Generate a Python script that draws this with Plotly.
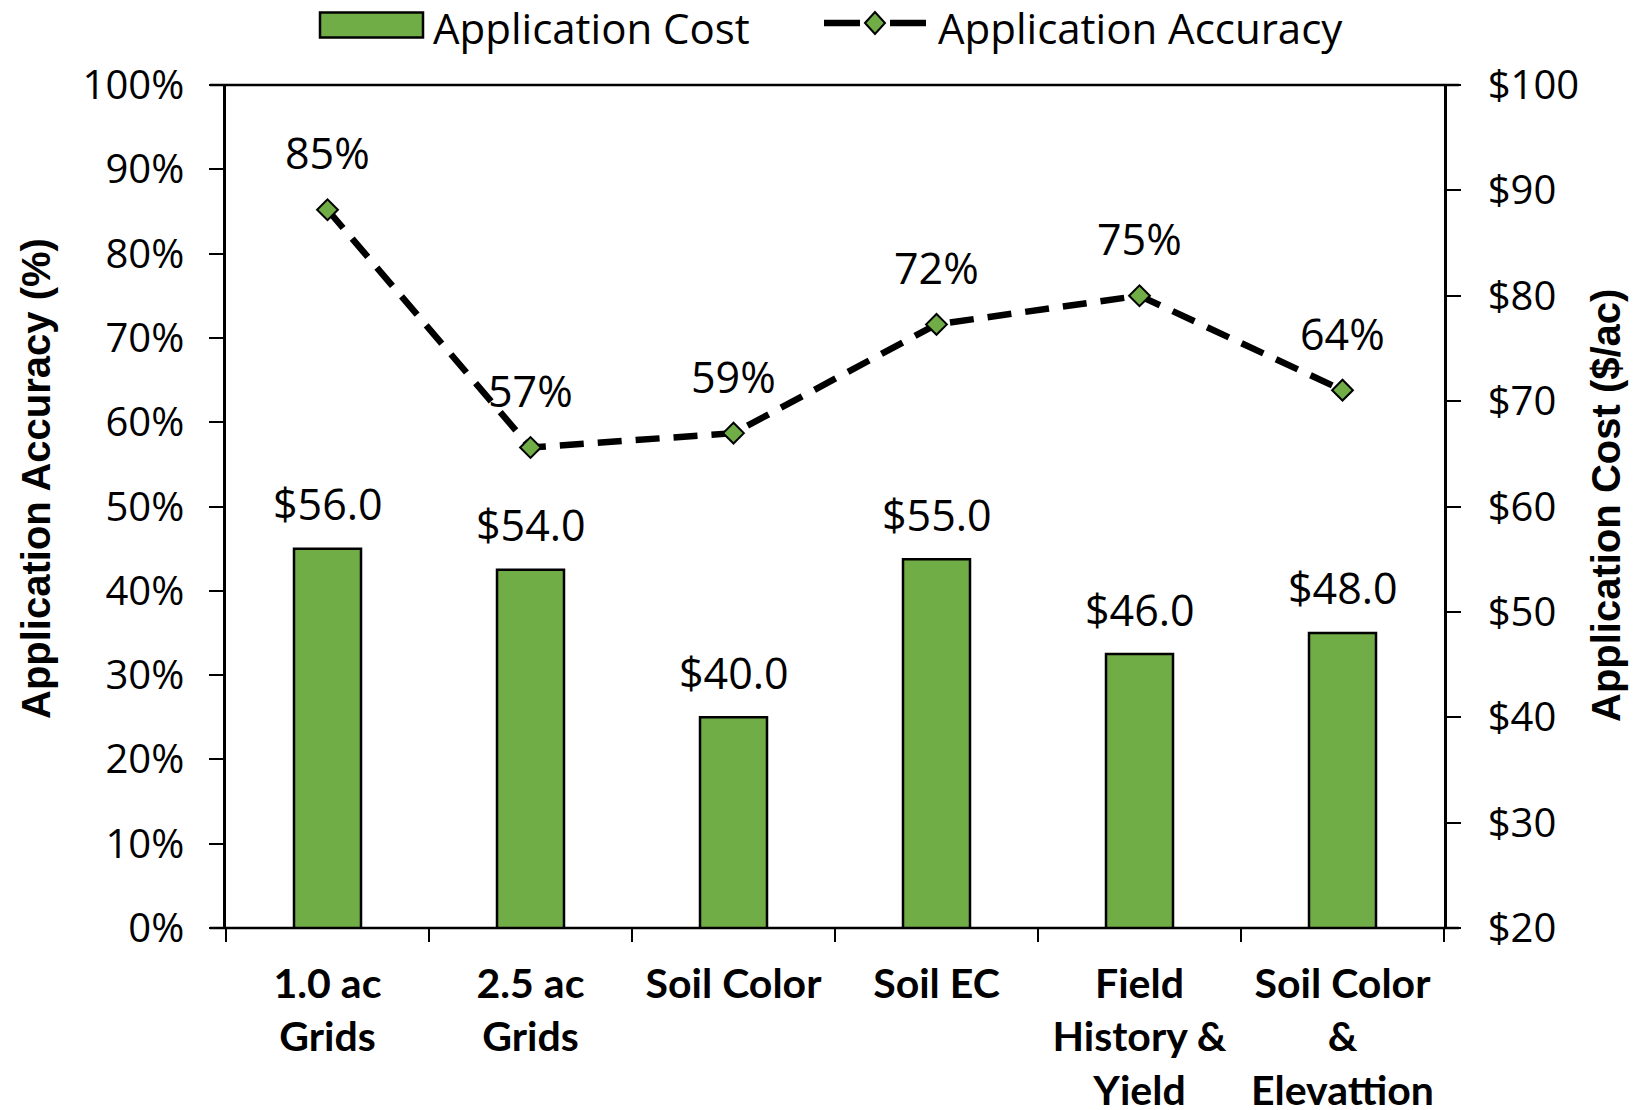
import plotly.graph_objects as go

categories = ["1.0 ac<br>Grids", "2.5 ac<br>Grids", "Soil Color", "Soil EC",
              "Field<br>History &<br>Yield", "Soil Color<br>&<br>Elevattion"]
cost = [56.0, 54.0, 40.0, 55.0, 46.0, 48.0]
accuracy = [0.852, 0.570, 0.587, 0.716, 0.750, 0.638]

left_ticks = [i / 10 for i in range(11)]
left_labels = [f"{int(v*100)}%" for v in left_ticks]
right_ticks = list(range(20, 101, 10))
right_labels = [f"${v}" for v in right_ticks]

GREEN = "#70AD47"
REG = "Open Sans"
BOLD = "Lato"

W, H = 1634, 1110
L, R, T, B = 226, 190, 85, 182
PW, PH = W - L - R, H - T - B


def px(x):
    return (x - L) / PW


def py(y):
    return (H - B - y) / PH


fig = go.Figure()
fig.add_trace(go.Bar(
    x=categories, y=cost, yaxis="y", name="Application Cost",
    marker=dict(color=GREEN, line=dict(color="black", width=2.5)),
    showlegend=False, hoverinfo="x+y"))
fig.add_trace(go.Scatter(
    x=categories, y=accuracy, yaxis="y2", name="Application Accuracy",
    mode="lines+markers",
    line=dict(color="black", width=6.5, dash="24px,14px"),
    marker=dict(symbol="diamond", size=16, color=GREEN, line=dict(color="black", width=2)),
    showlegend=False))

annotations = []
for c, v in zip(categories, cost):
    annotations.append(dict(x=c, y=v, xref="x", yref="y", text=f"${v:.1f}",
                            showarrow=False, yanchor="middle", yshift=45,
                            font=dict(family=REG, size=43, color="black")))
for c, v in zip(categories, accuracy):
    annotations.append(dict(x=c, y=v, xref="x", yref="y2", text=f"{round(v*100)}%",
                            showarrow=False, yanchor="middle", yshift=57,
                            font=dict(family=REG, size=43, color="black")))

# axis titles
annotations.append(dict(x=px(36), y=py(479), xref="paper", yref="paper",
                        text="Application Accuracy (%)", textangle=-90,
                        showarrow=False, xanchor="center", yanchor="middle",
                        font=dict(family="Liberation Sans", size=40, color="black", weight="bold")))
annotations.append(dict(x=px(1606), y=py(506), xref="paper", yref="paper",
                        text="Application Cost ($/ac)", textangle=-90,
                        showarrow=False, xanchor="center", yanchor="middle",
                        font=dict(family="Liberation Sans", size=40, color="black", weight="bold")))

# legend texts
annotations.append(dict(x=px(432), y=py(27), xref="paper", yref="paper",
                        text="Application Cost", showarrow=False, borderpad=0,
                        xanchor="left", yanchor="middle",
                        font=dict(family=REG, size=42, color="black")))
annotations.append(dict(x=px(937), y=py(27), xref="paper", yref="paper",
                        text="Application Accuracy", showarrow=False, borderpad=0,
                        xanchor="left", yanchor="middle",
                        font=dict(family=REG, size=42, color="black")))

shapes = [
    # frame lines top and bottom (extend past the side axes)
    dict(type="line", xref="paper", yref="paper", x0=px(210), x1=px(1459),
         y0=1, y1=1, line=dict(color="black", width=2.5), layer="below"),
    dict(type="line", xref="paper", yref="paper", x0=px(210), x1=px(1459),
         y0=0, y1=0, line=dict(color="black", width=2.5), layer="above"),
    # legend
    dict(type="rect", xref="paper", yref="paper", x0=px(320), x1=px(423),
         y0=py(37.5), y1=py(12.5), fillcolor=GREEN, line=dict(color="black", width=2.5)),
    dict(type="line", xref="paper", yref="paper", x0=px(824), x1=px(860),
         y0=py(23), y1=py(23), line=dict(color="black", width=6.5)),
    dict(type="line", xref="paper", yref="paper", x0=px(890), x1=px(926),
         y0=py(23), y1=py(23), line=dict(color="black", width=6.5)),
    dict(type="path", xref="paper", yref="paper",
         path=(f"M {px(865)},{py(23)} L {px(875)},{py(12)} L {px(885)},{py(23)} "
               f"L {px(875)},{py(34)} Z"),
         fillcolor=GREEN, line=dict(color="black", width=2)),
]

fig.update_layout(
    width=W, height=H,
    margin=dict(l=L, r=R, t=T, b=B, pad=0, autoexpand=False),
    paper_bgcolor="white", plot_bgcolor="white",
    bargap=0.67,
    showlegend=False,
    annotations=annotations,
    shapes=shapes,
    xaxis=dict(
        type="category", showgrid=False, zeroline=False, automargin=False,
        showline=False,
        ticks="outside", tickson="boundaries", ticklen=13, tickwidth=2, tickcolor="black",
        tickfont=dict(family=BOLD, size=41, color="black", weight="bold"),
        ticklabelstandoff=28,
    ),
    yaxis=dict(
        side="right", range=[20, 100], tickvals=right_ticks, ticktext=right_labels,
        showgrid=False, zeroline=False, showline=True, linecolor="black", linewidth=2.5,
        automargin=False,
        ticks="outside", ticklen=14, tickwidth=2, tickcolor="black",
        tickfont=dict(family=REG, size=40, color="black"),
        ticklabelstandoff=19,
    ),
    yaxis2=dict(
        overlaying="y", side="left", anchor="x", range=[0, 1], automargin=False,
        tickvals=left_ticks, ticktext=left_labels,
        showgrid=False, zeroline=False, showline=True, linecolor="black", linewidth=2.5,
        ticks="outside", ticklen=14, tickwidth=2, tickcolor="black",
        tickfont=dict(family=REG, size=40, color="black"),
        ticklabelstandoff=17,
    ),
)

fig.write_html("out.html", config={"displayModeBar": False},
               post_script="document.body.style.margin='0px';")
